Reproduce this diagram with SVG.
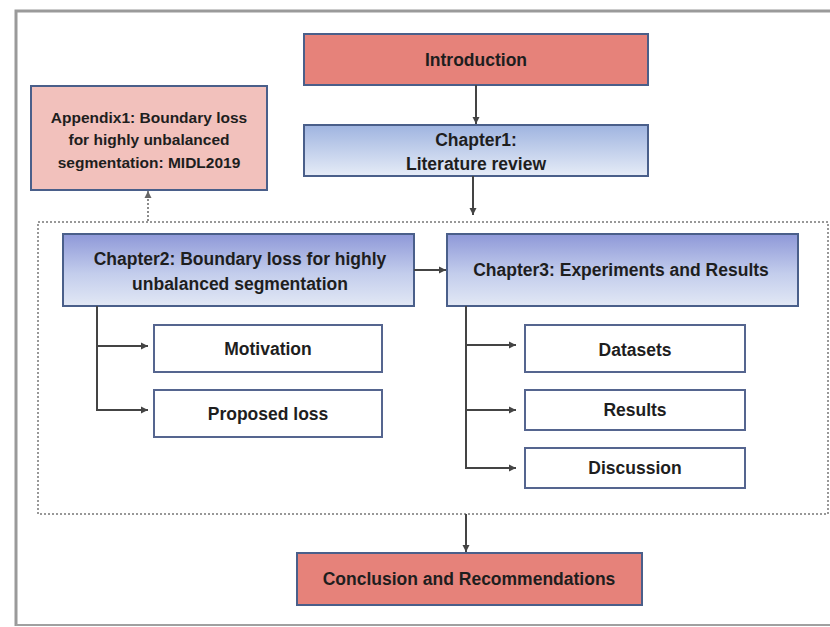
<svg xmlns="http://www.w3.org/2000/svg" width="830" height="627" viewBox="0 0 830 627">
<defs>
<linearGradient id="gBlue1" x1="0" y1="0" x2="0" y2="1">
<stop offset="0" stop-color="#9fb4e0"/><stop offset="1" stop-color="#e6ecf7"/>
</linearGradient>
<linearGradient id="gBlue2" x1="0" y1="0" x2="0" y2="1">
<stop offset="0" stop-color="#8e98d8"/><stop offset="0.55" stop-color="#c3cdec"/><stop offset="1" stop-color="#e2e8f5"/>
</linearGradient>
<marker id="arr" markerWidth="8" markerHeight="8" refX="7" refY="4" orient="auto" markerUnits="userSpaceOnUse">
<path d="M0,0.5 L7,4 L0,7.5 Z" fill="#444"/>
</marker>
<marker id="arrg" markerWidth="8" markerHeight="8" refX="7" refY="4" orient="auto" markerUnits="userSpaceOnUse">
<path d="M0,0.5 L7,4 L0,7.5 Z" fill="#666"/>
</marker>
</defs>
<style>
.t{font-family:"Liberation Sans",Arial,sans-serif;font-weight:bold;fill:#1e1e1e;text-anchor:middle;dominant-baseline:central}
.big{font-size:17.5px}
.sm{font-size:15.5px}
.red{fill:#e6827a;stroke:#4a5f8a;stroke-width:2}
.pink{fill:#f2c1bc;stroke:#4a5f8a;stroke-width:2}
.b1{fill:url(#gBlue1);stroke:#4a5f8a;stroke-width:2}
.b2{fill:url(#gBlue2);stroke:#4a5f8a;stroke-width:2}
.w{fill:#fff;stroke:#55658f;stroke-width:2}
.c{fill:none;stroke:#444;stroke-width:2}
</style>
<rect width="830" height="627" fill="#fff"/>
<path d="M16,626 V11 H830" fill="none" stroke="#9a9a9a" stroke-width="3"/>
<line x1="16" y1="625" x2="830" y2="625" stroke="#a0a0a0" stroke-width="2"/>
<rect id="container" x="38" y="222" width="790" height="292" fill="none" stroke="#777" stroke-width="1.5" stroke-dasharray="2,2"/>
<g id="intro"><rect class="red" x="304" y="34" width="344" height="51"/><text class="t big" x="476" y="60">Introduction</text></g>
<g id="appendix"><rect class="pink" x="31" y="86" width="236" height="104"/>
<text class="t sm" x="149" y="117">Appendix1: Boundary loss</text>
<text class="t sm" x="149" y="139">for highly unbalanced</text>
<text class="t sm" x="149" y="162">segmentation: MIDL2019</text></g>
<g id="ch1"><rect class="b1" x="304" y="125" width="344" height="51"/>
<text class="t big" x="476" y="140">Chapter1:</text>
<text class="t big" x="476" y="164">Literature review</text></g>
<g id="ch2"><rect class="b2" x="63" y="234" width="351" height="72"/>
<text class="t big" x="240" y="259">Chapter2: Boundary loss for highly</text>
<text class="t big" x="240" y="284">unbalanced segmentation</text></g>
<g id="ch3"><rect class="b2" x="447" y="234" width="351" height="72"/>
<text class="t big" x="621" y="270">Chapter3: Experiments and Results</text></g>
<g id="motivation"><rect class="w" x="154" y="325" width="228" height="47"/><text class="t big" x="268" y="349">Motivation</text></g>
<g id="proposed"><rect class="w" x="154" y="390" width="228" height="47"/><text class="t big" x="268" y="414">Proposed loss</text></g>
<g id="datasets"><rect class="w" x="525" y="325" width="220" height="47"/><text class="t big" x="635" y="350">Datasets</text></g>
<g id="results"><rect class="w" x="525" y="390" width="220" height="40"/><text class="t big" x="635" y="410">Results</text></g>
<g id="discussion"><rect class="w" x="525" y="448" width="220" height="40"/><text class="t big" x="635" y="468">Discussion</text></g>
<g id="conclusion"><rect class="red" x="297" y="553" width="345" height="52"/><text class="t big" x="469" y="579">Conclusion and Recommendations</text></g>
<g id="connectors">
<line class="c" x1="476" y1="85" x2="476" y2="124" marker-end="url(#arr)"/>
<line class="c" x1="473" y1="176" x2="473" y2="215" marker-end="url(#arr)"/>
<line x1="148" y1="221" x2="148" y2="191" stroke="#666" stroke-width="1.5" stroke-dasharray="2,2" marker-end="url(#arrg)"/>
<line class="c" x1="414" y1="270" x2="446" y2="270" marker-end="url(#arr)"/>
<path class="c" d="M97,306 V410"/>
<line class="c" x1="96" y1="346" x2="148" y2="346" marker-end="url(#arr)"/>
<line class="c" x1="96" y1="410" x2="148" y2="410" marker-end="url(#arr)"/>
<path class="c" d="M466,306 V468"/>
<line class="c" x1="465" y1="345" x2="516" y2="345" marker-end="url(#arr)"/>
<line class="c" x1="465" y1="410" x2="516" y2="410" marker-end="url(#arr)"/>
<line class="c" x1="465" y1="468" x2="516" y2="468" marker-end="url(#arr)"/>
<line class="c" x1="466" y1="514" x2="466" y2="552" marker-end="url(#arr)"/>
</g>
</svg>
